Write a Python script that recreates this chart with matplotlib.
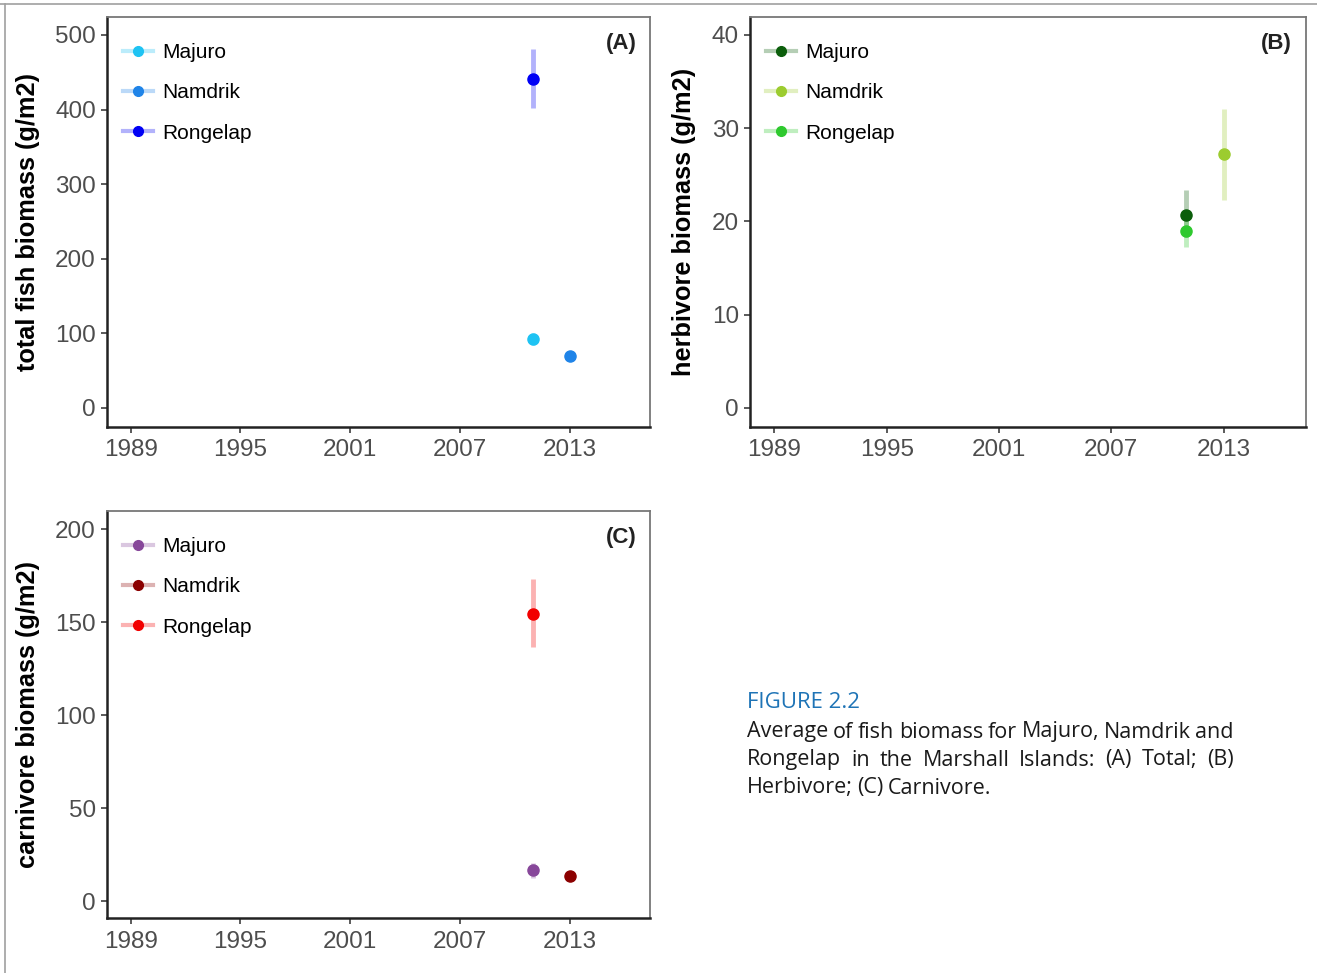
import matplotlib
matplotlib.use("Agg")
import matplotlib.pyplot as plt
from matplotlib.lines import Line2D
from matplotlib.colors import to_rgba
from matplotlib.transforms import blended_transform_factory

plt.rcParams['font.family'] = ['Liberation Sans', 'DejaVu Sans']

# Data
sites = ['Majuro', 'Namdrik', 'Rongelap']
years = [2011, 2013, 2011]
x_ticks = [1989, 1995, 2001, 2007, 2013]

total_mean = [92, 70, 441]
total_lo = [84, 66, 402]
total_hi = [100, 74, 481]

herb_mean = [20.7, 27.2, 19.0]
herb_lo = [18.3, 22.3, 17.3]
herb_hi = [23.4, 32.1, 20.6]

carn_mean = [16.6, 13.4, 154.5]
carn_lo = [12.5, 11.5, 136.5]
carn_hi = [20.5, 15.5, 173.0]

colors_a = ['#1ec3f3', '#1f84e8', '#0000f5']
colors_b = ['#0b5e0b', '#9ccc2f', '#2ec92e']
colors_c = ['#87479a', '#8b0000', '#f20000']

panels = [
    dict(rect=[107/1317, 1-427/973, 543/1317, 410/973], mean=total_mean, lo=total_lo, hi=total_hi,
         colors=colors_a, ylim=(-25.5, 524), yticks=[0, 100, 200, 300, 400, 500],
         ylabel='total fish biomass (g/m2)', tag='(A)', ylx=40),
    dict(rect=[750/1317, 1-427/973, 556/1317, 410/973], mean=herb_mean, lo=herb_lo, hi=herb_hi,
         colors=colors_b, ylim=(-2.04, 41.93), yticks=[0, 10, 20, 30, 40],
         ylabel='herbivore biomass (g/m2)', tag='(B)', ylx=696),
    dict(rect=[107/1317, 1-918/973, 543/1317, 407/973], mean=carn_mean, lo=carn_lo, hi=carn_hi,
         colors=colors_c, ylim=(-9.1, 209.7), yticks=[0, 50, 100, 150, 200],
         ylabel='carnivore biomass (g/m2)', tag='(C)', ylx=40),
]

fig = plt.figure(figsize=(13.17, 9.73), dpi=100)

# thin grey page frame at top and left
fig.add_artist(Line2D([0, 1], [1-4/973, 1-4/973], color='#a0a0a0', lw=1.2, transform=fig.transFigure))
fig.add_artist(Line2D([5/1317, 5/1317], [0, 1-4/973], color='#a0a0a0', lw=1.2, transform=fig.transFigure))

for p in panels:
    ax = fig.add_axes(p['rect'])
    handles = []
    for i, site in enumerate(sites):
        c = p['colors'][i]
        light = to_rgba(c, 0.3)
        ax.vlines(years[i], p['lo'][i], p['hi'][i], color=light, lw=3.5, zorder=2)
        ax.plot(years[i], p['mean'][i], 'o', color=c, ms=8, zorder=3)
        handles.append(Line2D([], [], color=light, lw=3, marker='o', ms=7,
                              markerfacecolor=c, markeredgecolor=c, label=site))
    ax.set_xlim(1987.7, 2017.4)
    ax.set_ylim(*p['ylim'])
    ax.set_xticks(x_ticks)
    ax.set_yticks(p['yticks'])
    ax.tick_params(labelsize=17.5, colors='#4d4d4d', length=4, width=1.3, pad=4)
    ax.tick_params(axis='x', pad=5)
    for s in ['left', 'bottom']:
        ax.spines[s].set_color('#222222')
        ax.spines[s].set_linewidth(1.8)
    for s in ['top', 'right']:
        ax.spines[s].set_color('#777777')
        ax.spines[s].set_linewidth(1.3)
    ax.set_ylabel(p['ylabel'], fontsize=18.3, fontweight='bold', color='black')
    ax.yaxis.set_label_coords(p['ylx'] / 1317, 0.5,
                              transform=blended_transform_factory(fig.transFigure, ax.transAxes))
    ax.text(0.975, 0.96, p['tag'], transform=ax.transAxes, ha='right', va='top',
            fontsize=16, fontweight='bold', color='#222222')
    ax.legend(handles=handles, loc='upper left', frameon=False, fontsize=15,
              handlelength=1.45, handletextpad=0.45, labelspacing=1.03,
              borderaxespad=0.35, bbox_to_anchor=(0.0, 0.975))

# caption
fig.text(747/1317, 1-703/973, 'FIGURE 2.2', color='#1f74b6', fontsize=16,
         fontfamily='Open Sans', va='center', ha='left')

cap_lines = [
    ('Average of fish biomass for Majuro, Namdrik and', True),
    ('Rongelap in the Marshall Islands: (A) Total; (B)', True),
    ('Herbivore; (C) Carnivore.', False),
]
cap_y = [732, 760, 788]
x0, x1 = 747, 1234
fig.canvas.draw()
renderer = fig.canvas.get_renderer()
for (line, justify), yy in zip(cap_lines, cap_y):
    words = line.split(' ')
    arts = [fig.text(0, 1-yy/973, w, fontsize=15.5, fontfamily='Open Sans', color='#1a1a1a',
                     va='center', ha='left') for w in words]
    widths = [a.get_window_extent(renderer).width for a in arts]
    if justify:
        gap = (x1 - x0 - sum(widths)) / (len(words) - 1)
    else:
        gap = 4.5
    x = x0
    for a, w in zip(arts, widths):
        a.set_x(x / 1317)
        x += w + gap

fig.savefig('out.png', dpi=100)
